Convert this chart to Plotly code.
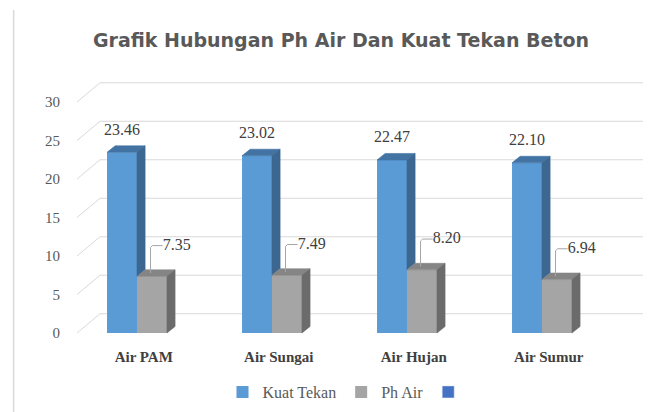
import plotly.graph_objects as go

# ---- data ----
categories = ["Air PAM", "Air Sungai", "Air Hujan", "Air Sumur"]
kuat_tekan = [23.46, 23.02, 22.47, 22.10]
ph_air = [7.35, 7.49, 8.20, 6.94]
y_ticks = [0, 5, 10, 15, 20, 25, 30]

# ---- geometry (x in category units, y in value units) ----
W = 0.222            # bar face width
DX, DY = 0.06, 0.85  # bar depth offset
GDX, GDY = 0.17, 2.5 # back-wall offset
X_WALL = -0.444
X_RIGHT = 3.748
BLUE_LBL = 2.8
GRAY_LBL = 4.0

pos = list(range(len(categories)))

BLUE = "#5B9BD5"
BLUE_SIDE = "#3B6790"
BLUE_TOP = "#4273A2"
GRAY = "#A5A5A5"
GRAY_SIDE = "#6B6B6B"
GRAY_TOP = "#858585"

FIG_W, FIG_H = 659, 404   # page body has an 8px margin


def polys(list_of_pts):
    xs, ys = [], []
    for pts in list_of_pts:
        for (x, y) in pts:
            xs.append(x)
            ys.append(y)
        xs.append(pts[0][0])
        ys.append(pts[0][1])
        xs.append(None)
        ys.append(None)
    return xs, ys


def face(pts_list, color):
    xs, ys = polys(pts_list)
    return go.Scatter(x=xs, y=ys, mode="lines", fill="toself", fillcolor=color,
                      line=dict(width=0.6, color=color), hoverinfo="skip",
                      showlegend=False)


fig = go.Figure()

# front faces
fig.add_trace(go.Bar(x=pos, y=kuat_tekan, base=0, offset=-W, width=W,
                     marker=dict(color=BLUE, line=dict(width=0)),
                     name="Kuat Tekan"))
fig.add_trace(go.Bar(x=pos, y=ph_air, base=0, offset=0, width=W,
                     marker=dict(color=GRAY, line=dict(width=0)),
                     name="Ph Air"))
fig.add_trace(go.Bar(x=[None], y=[None], marker=dict(color="#4472C4"),
                     name=" "))

# 3D depth faces
fig.add_trace(face([[(i - W, b), (i, b), (i + DX, b + DY), (i - W + DX, b + DY)]
                    for i, b in zip(pos, kuat_tekan)], BLUE_TOP))
fig.add_trace(face([[(i, g), (i, b), (i + DX, b + DY), (i + DX, g + DY)]
                    for i, b, g in zip(pos, kuat_tekan, ph_air)], BLUE_SIDE))
fig.add_trace(face([[(i, g), (i + W, g), (i + W + DX, g + DY), (i + DX, g + DY)]
                    for i, g in zip(pos, ph_air)], GRAY_TOP))
fig.add_trace(face([[(i + W, 0), (i + W, g), (i + W + DX, g + DY), (i + W + DX, DY)]
                    for i, g in zip(pos, ph_air)], GRAY_SIDE))

# leader lines for Ph Air labels
lx, ly = [], []
for i, g in zip(pos, ph_air):
    lx += [i + 0.1, i + 0.1, i + 0.115, i + 0.19, None]
    ly += [g + DY / 2, g + GRAY_LBL - 0.25, g + GRAY_LBL, g + GRAY_LBL, None]
fig.add_trace(go.Scatter(x=lx, y=ly, mode="lines",
                         line=dict(color="#A6A6A6", width=1),
                         hoverinfo="skip", showlegend=False))

# data labels
fig.add_trace(go.Scatter(x=[i - W / 2 + DX / 2 - 0.03 for i in pos],
                         y=[b + BLUE_LBL for b in kuat_tekan],
                         mode="text", text=[f"{v:.2f}" for v in kuat_tekan],
                         textposition="middle center",
                         textfont=dict(family="Liberation Serif", size=16, color="#404040"),
                         hoverinfo="skip", showlegend=False))
fig.add_trace(go.Scatter(x=[i + 0.19 for i in pos],
                         y=[g + GRAY_LBL for g in ph_air],
                         mode="text", text=[f"{v:.2f}" for v in ph_air],
                         textposition="middle right",
                         textfont=dict(family="Liberation Serif", size=16, color="#404040"),
                         hoverinfo="skip", showlegend=False))

# back-wall gridlines
shapes = []
for v in y_ticks:
    shapes.append(dict(type="path", xref="x", yref="y", layer="below",
                       path=f"M {X_WALL},{v} L {X_WALL + GDX},{v + GDY} L {X_RIGHT},{v + GDY}",
                       line=dict(color="#D9D9D9", width=1)))
# left border line of chart area
shapes.append(dict(type="line", xref="paper", yref="paper",
                   x0=-0.098, x1=-0.098, y0=-0.31, y1=1.27,
                   line=dict(color="#D9D9D9", width=1.5)))

fig.update_layout(
    width=FIG_W, height=FIG_H,
    margin=dict(l=62, r=22, t=71, b=77),
    paper_bgcolor="white", plot_bgcolor="white",
    barmode="overlay",
    shapes=shapes,
    title=dict(text="<b>Grafik Hubungan Ph Air Dan Kuat Tekan Beton</b>",
               x=333 / FIG_W, xanchor="center", xref="container",
               y=1 - 32 / FIG_H, yref="container", yanchor="middle",
               font=dict(family="DejaVu Sans", size=19, color="#595959")),
    xaxis=dict(range=[-0.4963, 3.763], showgrid=False, zeroline=False,
               showline=False, tickmode="array", automargin=False,
               tickvals=[i + 0.05 for i in pos], ticktext=categories,
               ticks="outside", ticklen=8, tickcolor="rgba(0,0,0,0)",
               tickfont=dict(family="Liberation Serif", size=15, color="#404040",
                             weight="bold")),
    yaxis=dict(range=[-0.26, 32.99], showgrid=False, zeroline=False,
               showline=False, tickmode="array", tickvals=y_ticks, automargin=False,
               ticks="outside", ticklen=6, tickcolor="rgba(0,0,0,0)",
               tickfont=dict(family="Liberation Serif", size=15, color="#595959")),
    legend=dict(orientation="h", x=342 / FIG_W, xanchor="center", xref="container",
                y=1 - 384 / FIG_H, yref="container", yanchor="middle",
                font=dict(family="Liberation Serif", size=16, color="#595959"),
                itemwidth=30, tracegroupgap=0),
    hovermode=False,
)

fig.write_html("out.html")
